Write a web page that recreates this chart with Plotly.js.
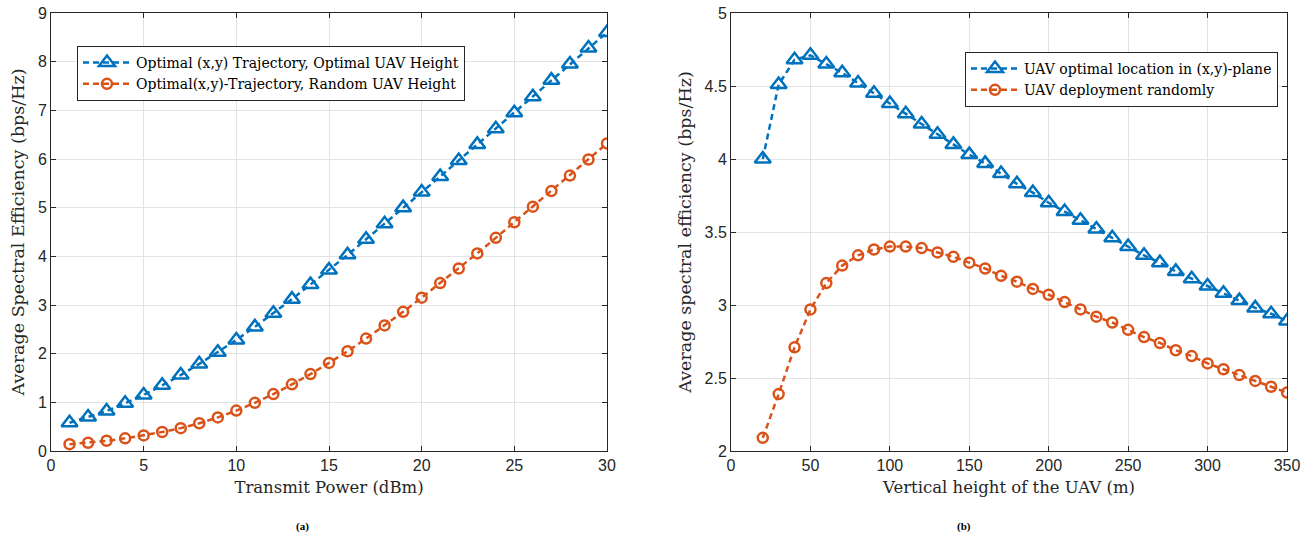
<!DOCTYPE html>
<html>
<head>
<meta charset="utf-8">
<script src="https://cdn.plot.ly/plotly-3.0.1.min.js"></script>
<style>html,body{margin:0;padding:0;background:#fff;}#chart{width:1316px;height:546px;}</style>
</head>
<body>
<div id="chart"></div>
<script>
// Panel (a)
const powerDbm = [1,2,3,4,5,6,7,8,9,10,11,12,13,14,15,16,17,18,19,20,21,22,23,24,25,26,27,28,29,30];
const seOptimalHeight = [0.58,0.70,0.82,0.98,1.15,1.35,1.56,1.79,2.03,2.28,2.55,2.83,3.12,3.42,3.72,4.03,4.35,4.67,5.00,5.32,5.64,5.97,6.30,6.62,6.95,7.28,7.62,7.95,8.28,8.60];
const seRandomHeight = [0.14,0.17,0.21,0.26,0.32,0.39,0.47,0.57,0.69,0.83,0.99,1.17,1.37,1.58,1.81,2.05,2.31,2.58,2.86,3.15,3.45,3.75,4.06,4.38,4.70,5.02,5.34,5.66,5.99,6.32];

// Panel (b)
const heightM = [20,30,40,50,60,70,80,90,100,110,120,130,140,150,160,170,180,190,200,210,220,230,240,250,260,270,280,290,300,310,320,330,340,350];
const seOptimalLocation = [4.00,4.51,4.68,4.71,4.65,4.59,4.52,4.45,4.38,4.31,4.24,4.17,4.10,4.03,3.97,3.90,3.83,3.77,3.70,3.64,3.58,3.52,3.46,3.40,3.34,3.29,3.23,3.18,3.13,3.08,3.03,2.98,2.94,2.89];
const seRandomDeploy = [2.09,2.39,2.71,2.97,3.15,3.27,3.34,3.38,3.40,3.40,3.39,3.36,3.33,3.29,3.25,3.20,3.16,3.11,3.07,3.02,2.97,2.92,2.88,2.83,2.78,2.74,2.69,2.65,2.60,2.56,2.52,2.48,2.44,2.40];

const legendA = ['Optimal (x,y) Trajectory, Optimal UAV Height', 'Optimal(x,y)-Trajectory, Random UAV Height'];
const legendB = ['UAV optimal location in (x,y)-plane', 'UAV deployment randomly'];

const BLUE = '#0072BD', ORANGE = '#D95319';
const serif = 'DejaVu Serif, Liberation Serif, serif';
const sans = 'Liberation Sans, Arial, sans-serif';

function tr(x, y, name, color, sym, size, xa, ya, leg) {
  return {x: x, y: y, name: name, type: 'scatter', mode: 'lines+markers',
    xaxis: xa, yaxis: ya, legend: leg,
    line: {color: color, width: 2.5, dash: '6px,4px'},
    marker: {symbol: sym, size: size, color: color, line: {color: color, width: 2.5}}};
}

const data = [
  tr(powerDbm, seOptimalHeight, legendA[0], BLUE, 'triangle-up-open', 14, 'x', 'y', 'legend'),
  tr(powerDbm, seRandomHeight, legendA[1], ORANGE, 'circle-open', 10, 'x', 'y', 'legend'),
  tr(heightM, seOptimalLocation, legendB[0], BLUE, 'triangle-up-open', 14, 'x2', 'y2', 'legend2'),
  tr(heightM, seRandomDeploy, legendB[1], ORANGE, 'circle-open', 10, 'x2', 'y2', 'legend2')
];

const axBase = {showline: true, linecolor: '#262626', linewidth: 1, mirror: 'ticks', ticks: 'inside', ticklen: 5,
  tickcolor: '#262626', showgrid: true, gridcolor: '#e3e3e3', gridwidth: 1, zeroline: false,
  tickfont: {family: sans, size: 16, color: '#262626'}, automargin: false};

const W = 1316, H = 546;
const xt = {family: serif, size: 16.5, color: '#262626'};
const yt = {family: serif, size: 17.5, color: '#262626'};
const layout = {
  width: W, height: H, margin: {l: 0, r: 0, t: 0, b: 0}, paper_bgcolor: '#fff', plot_bgcolor: '#fff',
  showlegend: true,
  xaxis: Object.assign({}, axBase, {domain: [51/W, 607/W], range: [0, 30], dtick: 5, anchor: 'y',
    title: {text: 'Transmit Power (dBm)', font: xt, standoff: 8}}),
  yaxis: Object.assign({}, axBase, {domain: [1-451/H, 1-13/H], range: [0, 9], dtick: 1, anchor: 'x',
    title: {text: 'Average Spectral Efficiency (bps/Hz)', font: yt, standoff: 8}}),
  xaxis2: Object.assign({}, axBase, {domain: [731/W, 1287/W], range: [0, 350], dtick: 50, anchor: 'y2',
    title: {text: 'Vertical height of the UAV (m)', font: xt, standoff: 8}}),
  yaxis2: Object.assign({}, axBase, {domain: [1-451/H, 1-13/H], range: [2, 5], dtick: 0.5, anchor: 'x2',
    title: {text: 'Average spectral efficiency (bps/Hz)', font: yt, standoff: 8}}),
  legend: {x: 77/W, y: 1-46/H, xanchor: 'left', yanchor: 'top', bgcolor: '#fff', bordercolor: '#262626', borderwidth: 1,
    font: {family: serif, size: 14, color: '#000'}, tracegroupgap: 0, itemwidth: 48},
  legend2: {x: 965/W, y: 1-52/H, xanchor: 'left', yanchor: 'top', bgcolor: '#fff', bordercolor: '#262626', borderwidth: 1,
    font: {family: serif, size: 14, color: '#000'}, tracegroupgap: 0, itemwidth: 48},
  annotations: [
    {text: '<b>(a)</b>', x: 294/W, y: 1-535/H, xref: 'paper', yref: 'paper', showarrow: false, font: {family: 'Liberation Serif, serif', size: 11, color: '#000'}},
    {text: '<b>(b)</b>', x: 973/W, y: 1-535/H, xref: 'paper', yref: 'paper', showarrow: false, font: {family: 'Liberation Serif, serif', size: 11, color: '#000'}}
  ]
};

Plotly.newPlot('chart', data, layout, {displayModeBar: false, staticPlot: true});
</script>
</body>
</html>
